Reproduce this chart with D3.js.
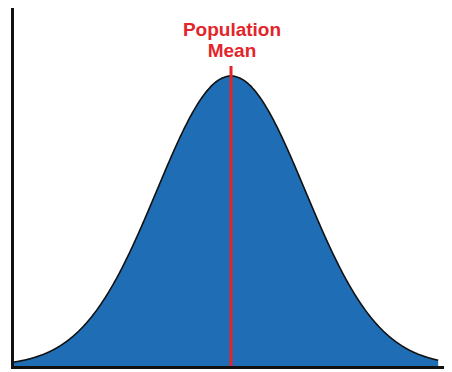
<!DOCTYPE html>
<html>
<head>
<meta charset="utf-8">
<script src="https://cdn.jsdelivr.net/npm/d3@7"></script>
<style>
  html, body { margin: 0; padding: 0; background: #ffffff; }
  svg { display: block; }
</style>
</head>
<body>
<div id="chart"></div>
<script>
// Normal distribution parameters (standard units)
const mean = [0];
const sd = [1];
const xExtent = [-2.95, 2.8];
const labelLines = ["Population", "Mean"];

const width = 452, height = 372;

const x = d3.scaleLinear().domain([-3, 3]).range([9, 453]);
const peak = 1 / (sd[0] * Math.sqrt(2 * Math.PI));
const y = d3.scaleLinear().domain([0, peak]).range([366, 76]);

const density = v => Math.exp(-0.5 * ((v - mean[0]) / sd[0]) ** 2) / (sd[0] * Math.sqrt(2 * Math.PI));
const samples = d3.range(xExtent[0], xExtent[1] + 1e-9, 0.01).map(v => ({ x: v, y: density(v) }));

const svg = d3.select("#chart").append("svg")
  .attr("width", width).attr("height", height);

// Filled bell curve
const area = d3.area().x(d => x(d.x)).y0(y(0)).y1(d => y(d.y)).curve(d3.curveBasis);
svg.append("path").datum(samples)
  .attr("d", area)
  .attr("fill", "#1f6db5");

const line = d3.line().x(d => x(d.x)).y(d => y(d.y)).curve(d3.curveBasis);
svg.append("path").datum(samples)
  .attr("d", line)
  .attr("fill", "none")
  .attr("stroke", "#111")
  .attr("stroke-width", 1.6);

// Mean marker
svg.append("line")
  .attr("x1", x(mean[0])).attr("x2", x(mean[0]))
  .attr("y1", 66).attr("y2", y(0))
  .attr("stroke", "#e3242b")
  .attr("stroke-width", 3);

// Axes lines
svg.append("line")
  .attr("x1", 12.5).attr("x2", 12.5).attr("y1", 8).attr("y2", 369)
  .attr("stroke", "#111").attr("stroke-width", 3);
svg.append("line")
  .attr("x1", 11).attr("x2", 444).attr("y1", 367.5).attr("y2", 367.5)
  .attr("stroke", "#111").attr("stroke-width", 3);

// Label
svg.selectAll("text.label").data(labelLines).enter().append("text")
  .attr("class", "label")
  .attr("x", x(mean[0]) + 1)
  .attr("y", (d, i) => 36 + i * 21)
  .attr("text-anchor", "middle")
  .attr("font-family", "Liberation Sans, Arial, sans-serif")
  .attr("font-weight", "bold")
  .attr("font-size", 19)
  .attr("fill", "#e3242b")
  .text(d => d);
</script>
</body>
</html>
